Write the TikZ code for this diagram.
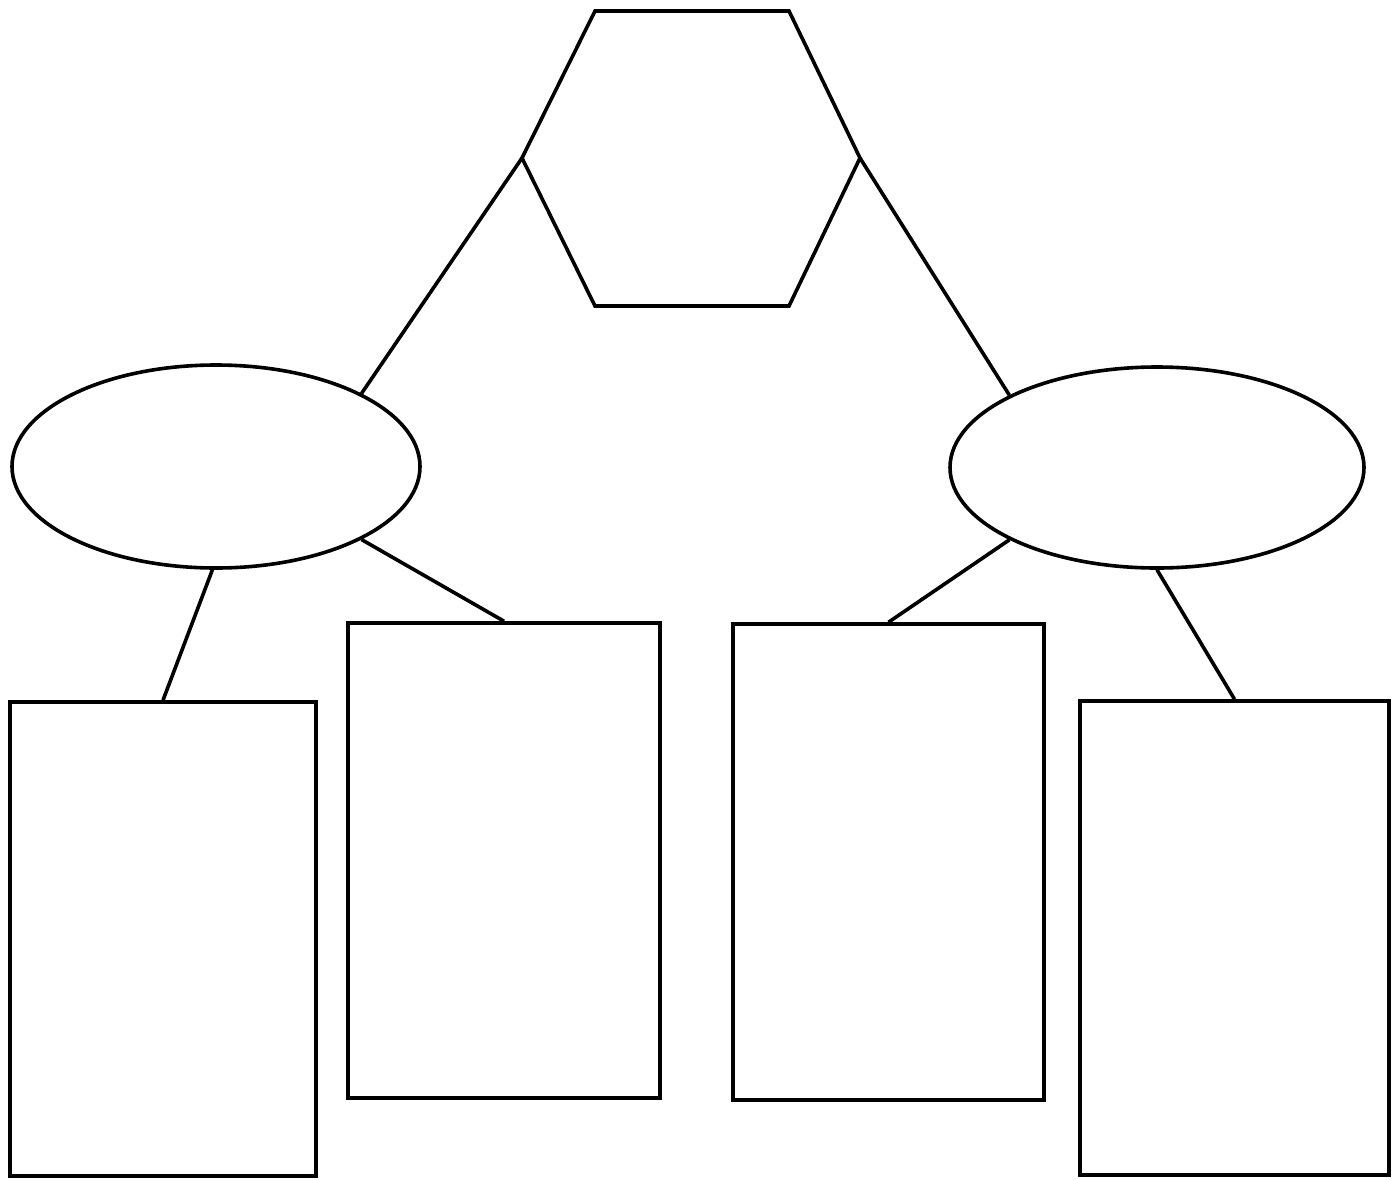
\documentclass[tikz,border=0pt]{standalone}
\usetikzlibrary{shapes.geometric}
\begin{document}
\begin{tikzpicture}[x=1pt,y=-1pt,
  every path/.style={line width=3.6pt},
  oval/.style={draw, ellipse, inner sep=0pt, line width=3.6pt},
  box/.style={draw, rectangle, inner sep=0pt, line width=3.6pt}]
\useasboundingbox (0,0) rectangle (1399,1179);
% hexagon
\coordinate (hTL) at (595,11);
\coordinate (hTR) at (789,11);
\coordinate (hR) at (860,158);
\coordinate (hBR) at (789,306);
\coordinate (hBL) at (595,306);
\coordinate (hL) at (522,158);
\draw[line join=miter] (hTL) -- (hTR) -- (hR) -- (hBR) -- (hBL) -- (hL) -- cycle;
% ellipses
\node[oval, minimum width=408pt, minimum height=203pt] (E1) at (216,466.5) {};
\node[oval, minimum width=414pt, minimum height=201pt] (E2) at (1157,467.5) {};
% boxes
\node[box, minimum width=306pt, minimum height=474pt] (R1) at (163,939) {};
\node[box, minimum width=312pt, minimum height=475pt] (R2) at (504,860.5) {};
\node[box, minimum width=311pt, minimum height=476pt] (R3) at (888.5,862) {};
\node[box, minimum width=309pt, minimum height=474pt] (R4) at (1234.5,938) {};
% connectors
\draw (hL) -- (E1.north east);
\draw (hR) -- (E2.north west);
\draw (E1.south east) -- (R2.north);
\draw (E1.-92) -- (R1.north);
\draw (E2.south west) -- (R3.north);
\draw (E2.-90) -- (R4.north);
\end{tikzpicture}
\end{document}
